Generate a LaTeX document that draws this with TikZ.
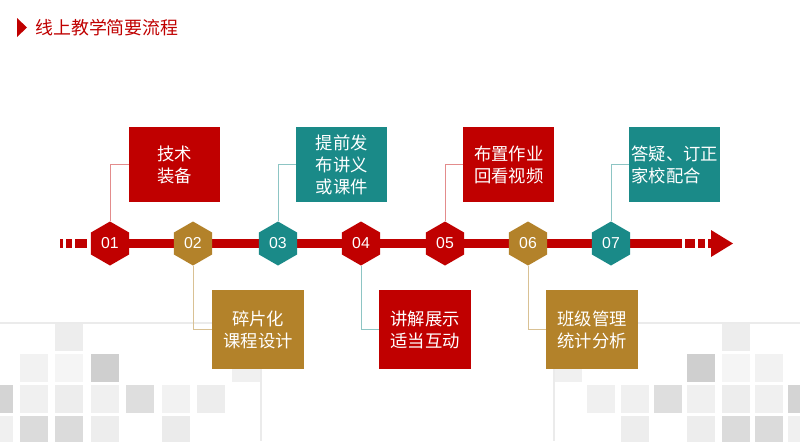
\documentclass[tikz,border=0pt]{standalone}
\usepackage{fontspec}
\usepackage{tikz}
\usetikzlibrary{shapes.geometric}
\setmainfont{Liberation Sans}
\newfontfamily\cjk{Noto Sans CJK SC}
\definecolor{flowred}{HTML}{C00000}
\definecolor{flowgold}{HTML}{B3822A}
\definecolor{flowteal}{HTML}{1A8A88}

\tikzset{
  hexa/.style={regular polygon, regular polygon sides=6, shape border rotate=30,
    minimum size=1.32cm, inner sep=0pt, text=white, font=\fontsize{13.5}{14}\selectfont},
  upbox/.style={anchor=north west, minimum width=2.73cm, minimum height=2.25cm,
    inner sep=0pt, text=white, align=center, font=\cjk\fontsize{14.8}{18.5}\selectfont},
  downbox/.style={upbox, minimum width=2.76cm, minimum height=2.37cm},
  link/.style={line width=0.8pt},
  guide/.style={black!8, line width=1.2pt}
}

\begin{document}
\begin{tikzpicture}[x=0.03cm, y=-0.03cm]
    \useasboundingbox (0,0) rectangle (800,441);
    \fill[white] (0,0) rectangle (800,441);

    \foreach \x/\y/\g in {55/323/7, 20/354/5, 55/354/4, 91/354/19, 232/354/6,
        -15/385/17, 20/385/6, 55/385/7, 91/385/6, 126/385/13, 162/385/5, 197/385/7,
        -15/416/6, 20/416/14, 55/416/14, 91/416/7, 162/416/8}
        \fill[black!\g] (\x,\y) rectangle ++(28,28);
    \foreach \x/\y/\g in {722/323/7, 554/354/6, 687/354/19, 722/354/4, 755/354/5,
        587/385/6, 621/385/6, 654/385/13, 687/385/6, 722/385/7, 755/385/6, 788/385/17,
        621/416/7, 687/416/7, 722/416/14, 755/416/14, 788/416/6}
        \fill[black!\g] (\x,\y) rectangle ++(28,28);
    \draw[guide] (0,323)--(261,323);
    \draw[guide] (261,300)--(261,441);
    \draw[guide] (638,323)--(800,323);
    \draw[guide] (554,300)--(554,441);

    \fill[flowred] (17,18)--(27,27.5)--(17,37)--cycle;
    \node[anchor=west, inner sep=0pt, text=flowred, font=\cjk\fontsize{15.3}{16}\selectfont] (title) at (35,27.5) {线上教学简要流程};

    \fill[flowred] (60,239) rectangle (63,248);
    \fill[flowred] (66,239) rectangle (72,248);
    \fill[flowred] (75,239) rectangle (87,248);
    \fill[flowred] (91,239) rectangle (682,248);
    \fill[flowred] (685,239) rectangle (695,248);
    \fill[flowred] (698,239) rectangle (705,248);
    \fill[flowred] (708,239) rectangle (712,248);
    \fill[flowred] (711,230)--(733,243.5)--(711,257)--cycle;

    \foreach \x/\n/\c in {110/1/flowred, 193/2/flowgold, 278/3/flowteal, 361/4/flowred,
        445/5/flowred, 528/6/flowgold, 611/7/flowteal}
        \node[hexa, fill=\c] (h\n) at (\x,243.5) {0\n};

    \node[upbox, fill=flowred] (b1) at (129,127) {技术\\装备};
    \node[downbox, fill=flowgold] (b2) at (212,290) {碎片化\\课程设计};
    \node[upbox, fill=flowteal] (b3) at (296,127) {提前发\\布讲义\\或课件};
    \node[downbox, fill=flowred] (b4) at (379,290) {讲解展示\\适当互动};
    \node[upbox, fill=flowred] (b5) at (463,127) {布置作业\\回看视频};
    \node[downbox, fill=flowgold] (b6) at (546,290) {班级管理\\统计分析};
    \node[upbox, fill=flowteal, align=left] (b7) at (629,127) {答疑、订正\\家校配合};

    \draw[link, flowred!45] (h1.90) |- (b1.west);
    \draw[link, flowgold!50] (h2.270) |- (b2.west);
    \draw[link, flowteal!50] (h3.90) |- (b3.west);
    \draw[link, flowteal!50] (h4.270) |- (b4.west);
    \draw[link, flowred!45] (h5.90) |- (b5.west);
    \draw[link, flowgold!50] (h6.270) |- (b6.west);
    \draw[link, flowteal!50] (h7.90) |- (b7.west);
\end{tikzpicture}
\end{document}
